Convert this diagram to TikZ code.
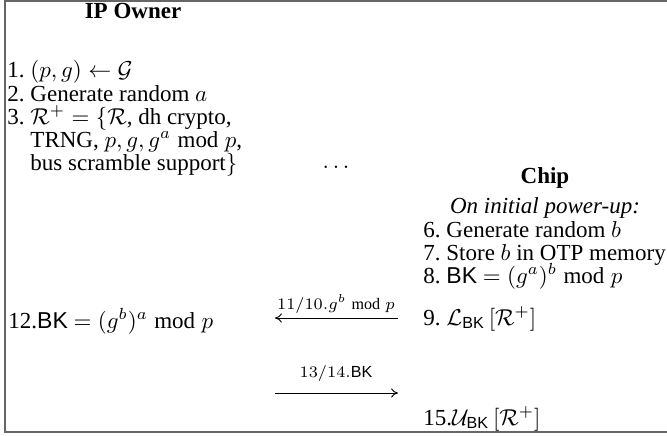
\documentclass[tikz,border=0pt]{standalone}
\usepackage{amsmath}
\usepackage{amssymb}
\usepackage{fontspec}
\setmainfont{Liberation Serif}
\setsansfont{Liberation Sans}
\usetikzlibrary{arrows.meta}

\newcommand{\bkey}{\textsf{BK}}

\begin{document}
\begin{tikzpicture}[x=0.435pt, y=-0.435pt,
    every node/.style={inner sep=0pt},
    item/.style={anchor=base west},
    msg/.style={anchor=base, font=\scriptsize},
    flow/.style={-{Computer Modern Rightarrow[length=3pt, width=4pt]}, line width=0.4pt}]
    \useasboundingbox (0,0) rectangle (667,435);
    % Cadre
    \draw[black!60, line width=0.7pt] (668,1) -- (5,1) -- (5,432) -- (668,432);
    % IP Owner
    \node[anchor=base, font=\bfseries] (owner) at (133,18) {IP Owner};
    \foreach \n/\y in {1/77, 2/101, 3/124} {
      \node[item] (num\n) at (7,\y) {\n.};
    }
    \node[item] (own1) at (30,77) {$(p,g)\leftarrow\mathcal{G}$};
    \node[item] (own2) at (30,101) {Generate random $a$};
    \node[item] (own3) at (30,124) {$\mathcal{R}^{+}=\{\mathcal{R}$, dh crypto,};
    \node[item] (own4) at (30,147) {TRNG, $p,g,g^{a} \bmod p$,};
    \node[item] (own5) at (30,170) {bus scramble support$\}$};
    \node[item] (own12) at (8,328) {12.\bkey{} $=(g^{b})^{a} \bmod p$};
    % Points
    \node[anchor=base] (dots) at (336,168) {$\ldots$};
    % Chip
    \node[anchor=base, font=\bfseries] (chip) at (545,183) {Chip};
    \node[anchor=base, font=\itshape] (power) at (545,213) {On initial power-up:};
    \foreach \n/\y in {6/237, 7/260, 8/283, 9/325} {
      \node[item] (num\n) at (423,\y) {\n.};
    }
    \node[item] (chip6) at (446,237) {Generate random $b$};
    \node[item] (chip7) at (446,260) {Store $b$ in OTP memory};
    \node[item] (chip8) at (446,283) {\bkey{} $=(g^{a})^{b} \bmod p$};
    \node[item] (chip9) at (446,325) {$\mathcal{L}_{\textsf{BK}}\,[\mathcal{R}^{+}]$};
    \node[item] (chip15) at (423,425) {15.$\mathcal{U}_{\textsf{BK}}\,[\mathcal{R}^{+}]$};
    % Messages
    \coordinate (in1) at (398,318);
    \coordinate (out1) at (275,318);
    \coordinate (in2) at (275,393);
    \coordinate (out2) at (398,393);
    \draw[flow] (in1) -- (out1);
    \draw[flow] (in2) -- (out2);
    \node[msg] (msg1) at (336,309) {$11/10.g^{b} \bmod p$};
    \node[msg] (msg2) at (336,377) {$13/14.$\bkey};
\end{tikzpicture}
\end{document}
